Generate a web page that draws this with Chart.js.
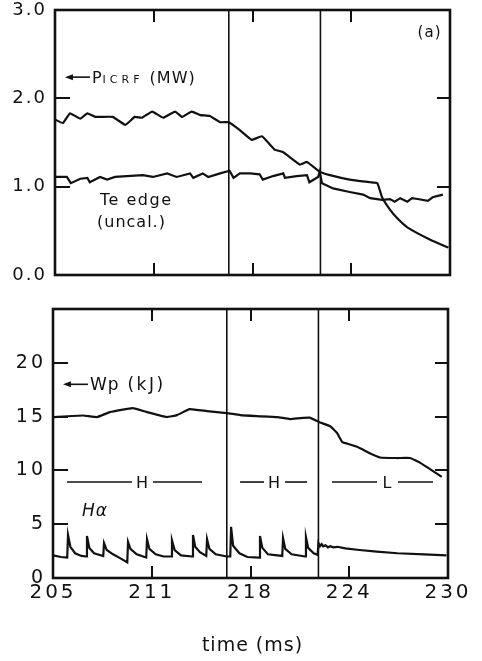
<!DOCTYPE html>
<html lang="en">
<head>
<meta charset="UTF-8">
<title>ICRF H-mode traces</title>
<script src="https://cdn.jsdelivr.net/npm/chart.js"></script>
<style>
  html, body { margin: 0; padding: 0; background: #fff; }
  #wrap { position: relative; width: 482px; height: 661px; }
  #top { position: absolute; left: 0; top: 0; }
  #bottom { position: absolute; left: 0; top: 292px; }
</style>
</head>
<body>
<div id="wrap">
  <canvas id="top" width="482" height="292"></canvas>
  <canvas id="bottom" width="482" height="369"></canvas>
</div>

<script>
// values (time in ms)
const tickLabels = ['205', '211', '218', '224', '230'];
const transitionTimes = [216.0, 221.8];

const picrfTime = [205.0, 205.5, 205.95, 206.6, 207.05, 207.55, 208.65, 209.45, 210.05, 210.5,
  211.15, 211.85, 212.6, 213.05, 213.65, 214.2, 214.8, 215.45, 216.0, 216.7,
  217.45, 218.1, 218.9, 219.45, 220.5, 220.95, 221.75, 222.4, 223.65, 224.95,
  225.4, 225.7, 226.2, 226.65, 227.3, 228.75, 229.9];
const picrfPower = [1.76, 1.72, 1.83, 1.77, 1.83, 1.79, 1.79, 1.70, 1.79, 1.78,
  1.85, 1.78, 1.85, 1.79, 1.85, 1.81, 1.80, 1.73, 1.73, 1.64,
  1.53, 1.57, 1.42, 1.39, 1.25, 1.28, 1.17, 1.13, 1.08, 1.05,
  1.04, 0.88, 0.74, 0.645, 0.54, 0.40, 0.31];

const teTime = [205.0, 205.75, 206.0, 206.6, 207.05, 207.2, 207.85, 208.3, 208.8, 209.55,
  210.55, 211.2, 212.1, 212.7, 213.55, 213.75, 214.35, 214.7, 215.45, 216.05,
  216.3, 216.7, 217.35, 217.95, 218.15, 218.8, 219.45, 219.55, 220.3, 220.95,
  221.1, 221.65, 221.75, 221.9, 222.6, 223.65, 224.5, 224.95, 225.7, 226.2,
  226.5, 226.85, 227.3, 227.6, 227.95, 228.6, 228.9, 229.55];
const teEdge = [1.11, 1.11, 1.04, 1.09, 1.10, 1.05, 1.11, 1.08, 1.11, 1.12,
  1.13, 1.11, 1.15, 1.11, 1.15, 1.10, 1.15, 1.11, 1.15, 1.18,
  1.10, 1.15, 1.15, 1.14, 1.08, 1.12, 1.15, 1.10, 1.12, 1.13,
  1.05, 1.11, 1.17, 1.04, 0.98, 0.94, 0.91, 0.87, 0.85, 0.86,
  0.83, 0.87, 0.83, 0.87, 0.86, 0.84, 0.88, 0.91];

const wpTime = [205.0, 206.9, 207.8, 208.6, 210.05, 210.95, 212.2, 212.85, 213.65, 214.75,
  216.0, 216.85, 217.9, 219.2, 220.0, 220.65, 221.25, 221.9, 222.55, 222.97,
  223.3, 223.6, 224.25, 225.05, 225.7, 226.77, 227.6, 228.25, 229.6];
const wpEnergy = [14.96, 15.1, 14.96, 15.42, 15.79, 15.42, 14.96, 15.14, 15.70, 15.51,
  15.33, 15.14, 15.05, 14.96, 14.77, 14.86, 14.9, 14.45, 14.1, 13.5,
  12.65, 12.5, 12.2, 11.6, 11.2, 11.15, 11.15, 10.7, 9.4];

const haTime = [205.0, 205.5, 205.9, 205.95, 206.1, 206.4, 206.8, 207.1, 207.15, 207.3,
  207.6, 208.18, 208.23, 208.4, 208.8, 209.3, 209.7, 209.75, 209.9, 210.3,
  210.9, 210.95, 211.1, 211.5, 212.0, 212.48, 212.53, 212.7, 213.1, 213.81,
  213.86, 214.0, 214.3, 214.7, 214.75, 214.9, 215.3, 216.0, 216.22, 216.27,
  216.4, 216.8, 217.3, 218.05, 218.1, 218.25, 218.6, 219.51, 219.56, 219.7,
  220.1, 220.96, 221.01, 221.15, 221.5, 221.75, 221.8, 221.9, 222.0, 222.1,
  222.25, 222.4, 222.55, 222.75, 223.0, 223.5, 224.4, 225.5, 226.8, 228.5, 229.9];
const haSignal = [2.1, 1.95, 1.9, 4.0, 2.9, 2.3, 2.05, 2.0, 3.9, 2.8,
  2.3, 2.05, 3.25, 2.6, 2.2, 1.8, 1.45, 3.35, 2.7, 2.2,
  1.9, 3.6, 2.7, 2.2, 2.0, 2.0, 3.5, 2.6, 2.1, 2.0,
  4.0, 2.9, 2.4, 2.05, 3.6, 2.7, 2.2, 2.0, 2.0, 4.75,
  3.0, 2.3, 1.95, 1.9, 3.9, 2.8, 2.2, 2.05, 3.7, 2.7,
  2.2, 2.0, 3.8, 2.8, 2.3, 2.15, 3.25, 2.95, 3.15, 2.95,
  3.05, 2.85, 2.95, 2.85, 2.9, 2.75, 2.6, 2.45, 2.3, 2.2, 2.1];

const ink = '#111';
const face = "'DejaVu Sans', sans-serif";

function trace(label, xs, ys, width, tension) {
  return {
    label: label,
    data: xs.map((t, i) => ({ x: t, y: ys[i] })),
    borderColor: ink,
    borderWidth: width,
    pointRadius: 0,
    tension: tension,
    fill: false
  };
}

// keep the plot frame exactly where the axis boxes put it
function fixWidth(w) {
  return s => { s.width = w; s.paddingTop = 0; s.paddingBottom = 0; };
}
function fixHeight(h) {
  return s => { s.height = h; s.paddingLeft = 0; s.paddingRight = 0; };
}

// tick marks pointing into the plot (negative tick length)
function inwardGrid(len) {
  return { display: true, drawOnChartArea: false, drawTicks: true, tickLength: -len, color: ink, lineWidth: 2 };
}

// time axis on one edge; the top edge gets a bare copy just for its tick marks
function timeAxis(position, height, tickOpts) {
  return {
    type: 'linear', axis: 'x', position: position, min: 205, max: 230,
    ticks: Object.assign({ stepSize: 6.25, display: false }, tickOpts || {}),
    grid: inwardGrid(12),
    border: { display: false },
    afterFit: fixHeight(height)
  };
}

function valueAxis(position, width, min, max, step, tickOpts) {
  return {
    type: 'linear', axis: 'y', position: position, min: min, max: max,
    ticks: Object.assign({ stepSize: step, display: false }, tickOpts || {}),
    grid: inwardGrid(position === 'left' ? 15 : 13),
    border: { display: false },
    afterFit: fixWidth(width)
  };
}

const panelPlugin = {
  id: 'panel',
  beforeDraw(chart, args, opts) {
    chart.ctx.letterSpacing = opts.spacing || '0px';
  },
  // frame and the L-H transition lines
  afterDraw(chart) {
    const ctx = chart.ctx;
    const a = chart.chartArea;
    const x = chart.scales.x;
    ctx.save();
    ctx.strokeStyle = ink;
    ctx.lineWidth = 1.6;
    transitionTimes.forEach(t => {
      const px = x.getPixelForValue(t);
      ctx.beginPath(); ctx.moveTo(px, a.top); ctx.lineTo(px, a.bottom); ctx.stroke();
    });
    ctx.lineWidth = 2.6;
    ctx.strokeRect(a.left, a.top, a.right - a.left, a.bottom - a.top);
    ctx.restore();
  },
  // the hand-lettered notes
  afterDatasetsDraw(chart, args, opts) {
    const ctx = chart.ctx;
    const a = chart.chartArea;
    const x = chart.scales.x, y = chart.scales.y;
    const seg = (x1, y1, x2, y2) => {
      ctx.beginPath(); ctx.moveTo(x1, y1); ctx.lineTo(x2, y2); ctx.stroke();
    };
    ctx.save();
    ctx.strokeStyle = ink;
    ctx.fillStyle = ink;
    ctx.textBaseline = 'alphabetic';
    ctx.textAlign = 'left';
    (opts.notes || []).forEach(n => {
      let px = x.getPixelForValue(n.t);
      const py = y.getPixelForValue(n.v);
      const base = py + n.size * 0.36;
      if (n.arrow) {
        ctx.lineWidth = 1.6;
        seg(px + 4, py, px + n.arrow, py);
        ctx.beginPath();
        ctx.moveTo(px, py); ctx.lineTo(px + 8, py - 3); ctx.lineTo(px + 8, py + 3);
        ctx.closePath(); ctx.fill();
        px += n.arrow + 2;
      }
      n.runs.forEach(r => {
        ctx.font = (r.style || '') + ' ' + r.size + 'px ' + face;
        ctx.letterSpacing = (r.spacing || 1) + 'px';
        ctx.fillText(r.text, px, base);
        px += ctx.measureText(r.text).width;
      });
    });

    (opts.bars || []).forEach(b => {
      const py = y.getPixelForValue(b.v);
      const pm = x.getPixelForValue(b.mid);
      ctx.lineWidth = 1.6;
      seg(x.getPixelForValue(b.from), py, pm - 10, py);
      seg(pm + 11, py, x.getPixelForValue(b.to), py);
      ctx.font = '16px ' + face;
      ctx.letterSpacing = '0px';
      ctx.textAlign = 'center';
      ctx.fillText(b.label, pm, py + 6);
      ctx.textAlign = 'left';
    });

    if (opts.title) {
      ctx.font = '19px ' + face;
      ctx.letterSpacing = '1px';
      ctx.textAlign = 'center';
      ctx.textBaseline = 'middle';
      ctx.fillText(opts.title, (a.left + a.right) / 2 + 2, chart.height - 15);
    }
    ctx.restore();
  }
};

const common = {
  responsive: false,
  animation: false,
  events: [],
  plugins: { legend: { display: false }, tooltip: { enabled: false } }
};

new Chart(document.getElementById('top'), {
  type: 'line',
  data: {
    datasets: [
      trace('PICRF (MW)', picrfTime, picrfPower, 2.2, 0.1),
      trace('Te edge (uncal.)', teTime, teEdge, 2.2, 0)
    ]
  },
  plugins: [panelPlugin],
  options: {
    ...common,
    layout: { padding: { left: 0, right: 32, top: 10, bottom: 0 } },
    scales: {
      x: timeAxis('bottom', 17),
      x2: timeAxis('top', 0),
      y: valueAxis('left', 55, 0, 3, 1, {
        display: true, padding: 23, color: ink,
        font: { family: face, size: 18 },
        callback: v => v.toFixed(1)
      }),
      y2: valueAxis('right', 0, 0, 3, 1)
    },
    plugins: {
      ...common.plugins,
      panel: {
        spacing: '2px',
        notes: [
          { t: 205.63, v: 2.24, size: 16, arrow: 25, runs: [
            { text: 'P', size: 16 },
            { text: 'ICRF', size: 11, spacing: 4 },
            { text: ' (MW)', size: 16 }
          ] },
          { t: 207.85, v: 0.86, size: 16, runs: [{ text: 'Te edge', size: 16, spacing: 1.5 }] },
          { t: 207.66, v: 0.61, size: 16, runs: [{ text: '(uncal.)', size: 16 }] },
          { t: 227.95, v: 2.76, size: 15, runs: [{ text: '(a)', size: 15 }] }
        ]
      }
    }
  }
});

new Chart(document.getElementById('bottom'), {
  type: 'line',
  data: {
    datasets: [
      trace('Wp (kJ)', wpTime, wpEnergy, 2.2, 0.1),
      trace('H\u03b1', haTime, haSignal, 2.2, 0)
    ]
  },
  plugins: [panelPlugin],
  options: {
    ...common,
    layout: { padding: { left: 0, right: 34, top: 17, bottom: 0 } },
    scales: {
      x: timeAxis('bottom', 83, {
        display: true, padding: 15, color: ink, maxRotation: 0, autoSkip: false,
        font: { family: face, size: 20 },
        callback: (v, i) => tickLabels[i]
      }),
      x2: timeAxis('top', 0),
      y: valueAxis('left', 53, 0, 25, 5, {
        display: true, padding: 22, color: ink,
        font: { family: face, size: 19 },
        callback: v => (v === 25 ? '' : String(v))
      }),
      y2: valueAxis('right', 0, 0, 25, 5)
    },
    plugins: {
      ...common.plugins,
      panel: {
        spacing: '3px',
        title: 'time (ms)',
        notes: [
          { t: 205.63, v: 18.0, size: 17, arrow: 25, runs: [
            { text: 'Wp', size: 17 },
            { text: ' (kJ)', size: 17, spacing: 2.5 }
          ] },
          { t: 206.84, v: 6.3, size: 17, runs: [{ text: 'H\u03b1', size: 17, style: 'italic' }] }
        ],
        bars: [
          { from: 205.89, to: 214.43, mid: 210.63, v: 8.92, label: 'H' },
          { from: 216.84, to: 221.08, mid: 218.99, v: 8.92, label: 'H' },
          { from: 222.66, to: 229.05, mid: 226.14, v: 8.92, label: 'L' }
        ]
      }
    }
  }
});
</script>
</body>
</html>
